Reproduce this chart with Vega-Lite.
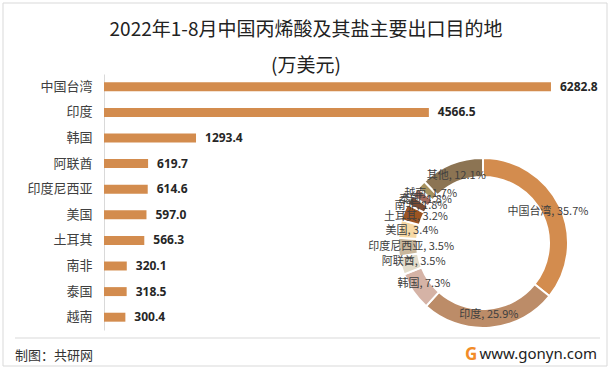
{
  "$schema": "https://vega.github.io/schema/vega-lite/v6.json",
  "width": 498,
  "height": 256,
  "autosize": {"type": "none"},
  "padding": {"left": 104, "top": 74, "right": 9, "bottom": 41},
  "background": "white",
  "title": {
    "text": ["2022年1-8月中国丙烯酸及其盐主要出口目的地", "(万美元)"],
    "anchor": "middle",
    "frame": "group",
    "dx": -47,
    "offset": -73.5,
    "fontSize": 19,
    "font": "Noto Sans CJK SC",
    "fontWeight": "normal",
    "color": "#222222",
    "lineHeight": 36
  },
  "datasets": {
    "bars": [
      {"name": "中国台湾", "value": 6282.8},
      {"name": "印度", "value": 4566.5},
      {"name": "韩国", "value": 1293.4},
      {"name": "阿联酋", "value": 619.7},
      {"name": "印度尼西亚", "value": 614.6},
      {"name": "美国", "value": 597.0},
      {"name": "土耳其", "value": 566.3},
      {"name": "南非", "value": 320.1},
      {"name": "泰国", "value": 318.5},
      {"name": "越南", "value": 300.4}
    ],
    "donut": [
      {"idx": 1, "name": "中国台湾", "pct": 35.7},
      {"idx": 2, "name": "印度", "pct": 25.9},
      {"idx": 3, "name": "韩国", "pct": 7.3},
      {"idx": 4, "name": "阿联酋", "pct": 3.5},
      {"idx": 5, "name": "印度尼西亚", "pct": 3.5},
      {"idx": 6, "name": "美国", "pct": 3.4},
      {"idx": 7, "name": "土耳其", "pct": 3.2},
      {"idx": 8, "name": "南非", "pct": 1.8},
      {"idx": 9, "name": "泰国", "pct": 1.8},
      {"idx": 10, "name": "越南", "pct": 1.7},
      {"idx": 11, "name": "其他", "pct": 12.1}
    ]
  },
  "layer": [
    {
      "data": {"values": [{"t": ""}]},
      "mark": {"type": "rect", "fill": null, "stroke": "#d9d9d9", "strokeWidth": 1},
      "encoding": {"x": {"value": -101}, "x2": {"value": 503}, "y": {"value": -71}, "y2": {"value": 292}}
    },
    {
      "data": {"name": "bars"},
      "mark": {"type": "bar", "color": "#D38C4E"},
      "encoding": {
        "y": {
          "field": "name", "type": "nominal", "sort": "-x",
          "scale": {"paddingInner": 0.65, "paddingOuter": 0.325},
          "axis": {"title": null, "ticks": false, "labelPadding": 12, "labelFontSize": 13, "labelColor": "#404040", "labelFont": "Noto Sans CJK SC", "domainColor": "#d9d9d9", "grid": false}
        },
        "x": {"field": "value", "type": "quantitative", "scale": {"domain": [0, 7000]}, "axis": null}
      }
    },
    {
      "data": {"name": "bars"},
      "mark": {"type": "text", "align": "left", "dx": 9, "fontSize": 12, "fontWeight": "bold", "color": "#262626", "font": "Noto Sans"},
      "encoding": {
        "y": {"field": "name", "type": "nominal", "sort": "-x"},
        "x": {"field": "value", "type": "quantitative"},
        "text": {"field": "value", "type": "quantitative", "format": ".1f"}
      }
    },
    {
      "data": {"name": "donut"},
      "mark": {"type": "arc", "innerRadius": 66, "outerRadius": 85, "stroke": "white", "strokeWidth": 2},
      "encoding": {
        "x": {"value": 379},
        "y": {"value": 169},
        "theta": {"field": "pct", "type": "quantitative", "stack": true},
        "order": {"field": "idx", "type": "quantitative"},
        "color": {
          "field": "name", "type": "nominal", "legend": null,
          "scale": {
            "domain": ["中国台湾", "印度", "韩国", "阿联酋", "印度尼西亚", "美国", "土耳其", "南非", "泰国", "越南", "其他"],
            "range": ["#D38C4E", "#BC8C68", "#D5B3A6", "#E3DCCB", "#C9B79C", "#F7D9A4", "#9C5422", "#7B4B33", "#A46A5C", "#A8925F", "#8C7453"]
          }
        }
      }
    },
    {
      "data": {"name": "donut"},
      "transform": [{"calculate": "datum.name + ', ' + format(datum.pct, '.1f') + '%'", "as": "label"}],
      "mark": {"type": "text", "radius": 72, "fontSize": 11, "color": "#404040", "font": "Noto Sans CJK SC"},
      "encoding": {
        "x": {"value": 379},
        "y": {"value": 169},
        "theta": {"field": "pct", "type": "quantitative", "stack": true},
        "order": {"field": "idx", "type": "quantitative"},
        "text": {"field": "label", "type": "nominal"}
      }
    },
    {
      "data": {"values": [{"t": "制图：共研网"}]},
      "mark": {"type": "text", "align": "left", "baseline": "middle", "fontSize": 13, "color": "#333333", "font": "Noto Sans CJK SC"},
      "encoding": {"x": {"value": -89}, "y": {"value": 282}, "text": {"field": "t", "type": "nominal"}}
    },
    {
      "data": {"values": [{"t": "G"}]},
      "mark": {"type": "text", "align": "left", "baseline": "middle", "fontSize": 17, "fontWeight": "bold", "color": "#F28C28", "font": "Noto Sans"},
      "encoding": {"x": {"value": 361}, "y": {"value": 281}, "text": {"field": "t", "type": "nominal"}}
    },
    {
      "data": {"values": [{"t": "www.gonyn.com"}]},
      "mark": {"type": "text", "align": "right", "baseline": "middle", "fontSize": 15, "color": "#222222", "font": "Noto Sans"},
      "encoding": {"x": {"value": 493}, "y": {"value": 280}, "text": {"field": "t", "type": "nominal"}}
    },
    {
      "data": {"values": [{"t": ""}]},
      "mark": {"type": "rule", "color": "#d9d9d9", "strokeWidth": 1},
      "encoding": {"x": {"value": -89}, "x2": {"value": 496}, "y": {"value": 264}}
    }
  ],
  "config": {"view": {"stroke": null}, "font": "Noto Sans CJK SC"}
}
